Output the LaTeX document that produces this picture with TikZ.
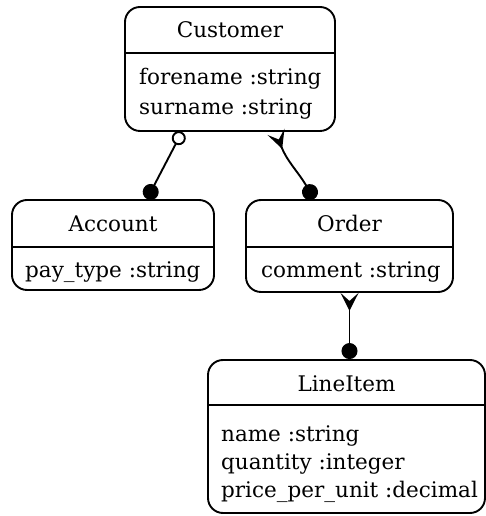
\documentclass[tikz,border=0pt]{standalone}
\usepackage{fontspec}
\setmainfont{DejaVu Serif}
\usetikzlibrary{arrows.meta}
\begin{document}
\begin{tikzpicture}[x=1pt,y=1pt,
  entity/.style={draw,line width=1.9pt,rounded corners=15pt,inner sep=0pt},
  ttl/.style={anchor=base,inner sep=0pt,font=\fontsize{21.5}{24}\selectfont},
  attr/.style={anchor=base west,inner sep=0pt,font=\fontsize{21.5}{24}\selectfont},
  sep/.style={line width=1.9pt},
  conn/.style={line width=1.9pt},
  one/.tip={Circle[length=16pt,width=16pt]},
  zero/.tip={Circle[open,length=14pt,width=14pt]},
  many/.tip={Stealth[reversed,length=18pt,width=18pt,inset=8pt]}]
\useasboundingbox (0,0) rectangle (486,516);
% Customer
\node[entity,minimum width=210pt,minimum height=124pt] (cust) at (230,447) {};
\draw[sep] (cust.west |- 0,463) -- (cust.east |- 0,463);
\node[ttl] (custT) at (230,478) {Customer};
\node[attr] (custA1) at (139,431) {forename :string};
\node[attr] (custA2) at (139,401) {surname :string};
% Account
\node[entity,minimum width=202pt,minimum height=90pt] (acc) at (113,271) {};
\draw[sep] (acc.west |- 0,269) -- (acc.east |- 0,269);
\node[ttl] (accT) at (113,284) {Account};
\node[attr] (accA1) at (25,238) {pay\_type :string};
% Order
\node[entity,minimum width=207pt,minimum height=92pt] (ord) at (349.5,270) {};
\draw[sep] (ord.west |- 0,269) -- (ord.east |- 0,269);
\node[ttl] (ordT) at (349.5,284) {Order};
\node[attr] (ordA1) at (261,238) {comment :string};
% LineItem
\node[entity,minimum width=277pt,minimum height=153pt] (li) at (346.5,79.5) {};
\draw[sep] (li.west |- 0,111) -- (li.east |- 0,111);
\node[ttl] (liT) at (346.5,124) {LineItem};
\node[attr] (liA1) at (221,74) {name :string};
\node[attr] (liA2) at (221,46) {quantity :integer};
\node[attr] (liA3) at (221,18) {price\_per\_unit :decimal};
% connectors
\draw[conn,zero-one]
  ([xshift=-48pt]cust.south) -- ([xshift=34pt]acc.north);
\draw[conn,many-one]
  ([xshift=46pt]cust.south) to[out=-70,in=120] ([xshift=-35.5pt]ord.north);
\draw[conn,many-one]
  (ord.south) -- (ord.south |- li.north);
\end{tikzpicture}
\end{document}
